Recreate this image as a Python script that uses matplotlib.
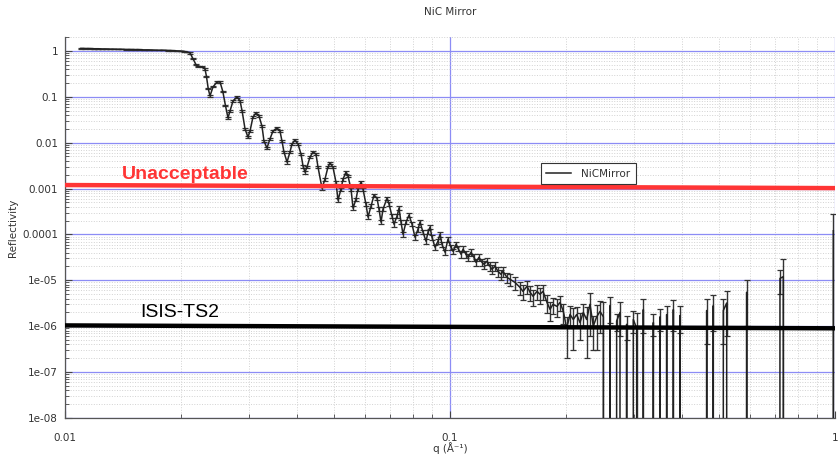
import numpy as np
import matplotlib
matplotlib.use('Agg')
from matplotlib import pyplot as plt
from matplotlib.ticker import LogLocator, NullFormatter

# ---- data (q in 1/A, reflectivity) ----
q_low = [0.0110, 0.0113, 0.0116, 0.0119, 0.0122, 0.0125,
         0.0128, 0.0131, 0.0134, 0.0137, 0.0140, 0.0144,
         0.0148, 0.0152, 0.0156, 0.0160, 0.0165, 0.0170,
         0.0175, 0.0180, 0.0185, 0.0190, 0.0195, 0.0200,
         0.0204, 0.0208,
         0.02112, 0.02150, 0.02189, 0.02215, 0.02269, 0.02310,
         0.02330, 0.02355, 0.02380, 0.02424, 0.02482, 0.02527,
         0.02570, 0.02610, 0.02651, 0.02683, 0.02732, 0.02798,
         0.02849, 0.02884, 0.02935, 0.02987, 0.03024, 0.03078,
         0.03134, 0.03190, 0.03248, 0.03287, 0.03347, 0.03407,
         0.03469, 0.03553, 0.03617, 0.03661, 0.03705, 0.03773,
         0.03840, 0.03886, 0.03957, 0.04029, 0.04102, 0.04152,
         0.04201, 0.04252, 0.04329, 0.04408, 0.04486, 0.04541,
         0.04651, 0.04734, 0.04820, 0.04879, 0.04966, 0.05056,
         0.05118, 0.05210, 0.05273, 0.05370, 0.05433, 0.05532,
         0.05600, 0.05700, 0.05768, 0.05875, 0.05943, 0.06050,
         0.06124, 0.06234, 0.06349, 0.06462, 0.06540, 0.06620,
         0.06699, 0.06862, 0.06945, 0.07070, 0.07153, 0.07284,
         0.07371, 0.07460, 0.07550, 0.07686, 0.07826, 0.07967,
         0.08111, 0.08259, 0.08358, 0.08509, 0.08664, 0.08768,
         0.08874, 0.08979, 0.09142, 0.09308, 0.09419, 0.09533,
         0.09705, 0.09880, 0.1006, 0.1018, 0.1037, 0.1049,
         0.1068, 0.1081, 0.1100, 0.1114, 0.1134, 0.1154,
         0.1168, 0.1189, 0.1211, 0.1225, 0.1248, 0.1270,
         0.1285, 0.1309, 0.1332, 0.1357, 0.1373, 0.1406,
         0.1432, 0.1475, 0.1520, 0.1547, 0.1585, 0.1614,
         0.1643, 0.1683, 0.1713, 0.1744, 0.1786, 0.1819,
         0.1851, 0.1896]

r_low = [1.13, 1.12, 1.12, 1.11, 1.11, 1.10,
         1.10, 1.09, 1.09, 1.08, 1.08, 1.07,
         1.07, 1.06, 1.06, 1.05, 1.05, 1.04,
         1.03, 1.03, 1.02, 1.01, 1.00, 0.99,
         0.97, 0.94,
         0.90, 0.67, 0.50, 0.45, 0.45, 0.40,
         0.28, 0.15, 0.104, 0.164, 0.21, 0.21,
         0.13, 0.065, 0.0344, 0.049, 0.081, 0.099,
         0.081, 0.049, 0.0198, 0.0132, 0.0179, 0.0362,
         0.0443, 0.0381, 0.0230, 0.0108, 0.00762, 0.0120,
         0.0179, 0.0208, 0.0179, 0.0108, 0.00623, 0.00377,
         0.00623, 0.00932, 0.0114, 0.00932, 0.00564, 0.00308,
         0.00228, 0.00293, 0.00485, 0.00623, 0.00564, 0.00293,
         0.00102, 0.00160, 0.00293, 0.00359, 0.00293, 0.00138,
         0.000558, 0.00097, 0.00160, 0.00228, 0.00187, 0.00097,
         0.000373, 0.000587, 0.00097, 0.00138, 0.00097, 0.000456,
         0.000238, 0.000413, 0.000718, 0.000617, 0.000355, 0.000185,
         0.000355, 0.000617, 0.000456, 0.000250, 0.000167, 0.000250,
         0.000373, 0.000185, 0.000101, 0.000185, 0.000263, 0.000167,
         8.69e-5, 0.000130, 0.000185, 0.000112, 7.11e-5, 0.000112,
         0.000144, 8.69e-5, 5.26e-5, 7.11e-5, 0.000101, 6.11e-5,
         4.09e-5, 7.86e-5, 5.26e-5, 4.30e-5, 6.11e-5, 5.0e-5,
         3.70e-5, 4.75e-5, 3.70e-5, 3.18e-5, 4.09e-5, 3.18e-5,
         2.47e-5, 3.18e-5, 2.47e-5, 2.24e-5, 2.60e-5, 2.02e-5,
         1.74e-5, 2.02e-5, 1.57e-5, 1.35e-5, 1.57e-5, 1.16e-5,
         1.05e-5, 9.0e-6, 7.0e-6, 5.75e-6, 7.4e-6, 5.5e-6,
         4.5e-6, 5.75e-6, 4.95e-6, 5.75e-6, 3.3e-6, 2.33e-6,
         3.0e-6, 2.7e-6]

# relative error of the low-q points
rel_low = [0.01, 0.01, 0.01, 0.01, 0.01, 0.01,
           0.01, 0.01, 0.01, 0.01, 0.01, 0.01,
           0.01, 0.01, 0.01, 0.01, 0.01, 0.01,
           0.01, 0.01, 0.01, 0.01, 0.01, 0.01,
           0.01, 0.01,
           0.03, 0.03, 0.03, 0.03, 0.03, 0.03,
           0.03, 0.03, 0.03, 0.03, 0.03, 0.03,
           0.04, 0.04, 0.05, 0.04, 0.04, 0.04,
           0.05, 0.05, 0.06, 0.06, 0.05, 0.05,
           0.05, 0.05, 0.05, 0.06, 0.06, 0.05,
           0.05, 0.05, 0.05, 0.06, 0.06, 0.07,
           0.06, 0.05, 0.05, 0.05, 0.06, 0.07,
           0.07, 0.06, 0.06, 0.05, 0.06, 0.06,
           0.08, 0.07, 0.06, 0.06, 0.06, 0.07,
           0.09, 0.08, 0.07, 0.07, 0.07, 0.08,
           0.09, 0.08, 0.08, 0.07, 0.08, 0.09,
           0.10, 0.09, 0.08, 0.08, 0.09, 0.10,
           0.09, 0.08, 0.09, 0.10, 0.11, 0.10,
           0.09, 0.10, 0.12, 0.10, 0.09, 0.10,
           0.12, 0.11, 0.10, 0.11, 0.12, 0.11,
           0.11, 0.12, 0.13, 0.12, 0.11, 0.13,
           0.14, 0.12, 0.13, 0.14, 0.13, 0.14,
           0.16, 0.15, 0.16, 0.17, 0.16, 0.17,
           0.18, 0.17, 0.19, 0.20, 0.19, 0.21,
           0.22, 0.21, 0.23, 0.24, 0.23, 0.26,
           0.28, 0.30, 0.32, 0.35, 0.33, 0.36,
           0.38, 0.35, 0.37, 0.36, 0.42, 0.45,
           0.40, 0.42]

# noisy tail: zeros are the non-positive points that fall off the log axis
q_tail = [0.1931, 0.1970, 0.2009, 0.2050, 0.2091, 0.2133,
          0.2176, 0.2219, 0.2264, 0.2310, 0.2356, 0.2404,
          0.2453, 0.2502, 0.2552, 0.2604, 0.2656, 0.2709,
          0.2764, 0.2819, 0.2876, 0.2935, 0.2993, 0.3054,
          0.3115, 0.3178, 0.3242, 0.3307, 0.3374, 0.3442,
          0.3512, 0.3582, 0.3654, 0.3728, 0.3803, 0.3880,
          0.3957, 0.4037, 0.4201, 0.4460, 0.4642, 0.4734,
          0.4829, 0.4928, 0.5128, 0.5232, 0.5336, 0.5665,
          0.5896, 0.6014, 0.6386, 0.7196, 0.7339, 0.7487,
          0.8111, 0.9142, 0.9901]

r_tail = [3.3e-6, 2.1e-6, 0.9e-6, 1.8e-6, 1.4e-6, 1.8e-6,
          1.2e-6, 2.0e-6, 1.4e-6, 3.0e-6, 1.0e-6, 1.6e-6,
          2.1e-6, 1.6e-6, 0, 2.8e-6, 0, 1.3e-6,
          2.0e-6, 0, 1.1e-6, 0, 1.4e-6, 0.9e-6,
          0, 2.3e-6, 0, 0, 1.2e-6, 0,
          1.6e-6, 0, 1.8e-6, 0, 2.3e-6, 0,
          1.7e-6, 0, 0, 0, 2.2e-6, 0,
          2.8e-6, 0, 2.2e-6, 3.2e-6, 0, 0,
          5.5e-6, 0, 0, 1.1e-5, 1.2e-5, 0,
          0, 0, 1.2e-4]

err_tail = [1.2e-6, 1.0e-6, 0.7e-6, 0.9e-6, 1.1e-6, 0.8e-6,
            0.7e-6, 1.0e-6, 1.2e-6, 2.4e-6, 0.7e-6, 1.3e-6,
            1.4e-6, 1.7e-6, 0, 1.6e-6, 0, 0.5e-6,
            1.4e-6, 0, 0.6e-6, 0, 0.7e-6, 1.0e-6,
            0, 1.6e-6, 0, 0, 0.6e-6, 0,
            0.8e-6, 0, 0.9e-6, 0, 1.5e-6, 0,
            1.0e-6, 0, 0, 0, 1.8e-6, 0,
            2.0e-6, 0, 1.8e-6, 2.6e-6, 0, 0,
            4.5e-6, 0, 0, 6e-6, 1.7e-5, 0,
            0, 0, 1.6e-4]

# reference levels
unacc_q = [0.01, 1.0]
unacc_r = [1.19e-3, 1.02e-3]
ts2_q = [0.01, 1.0]
ts2_r = [1.04e-6, 0.90e-6]

yticks = [1e-8, 1e-7, 1e-6, 1e-5, 1e-4, 1e-3, 1e-2, 1e-1, 1]
ylabels = ['1e-08', '1e-07', '1e-06', '1e-05', '0.0001', '0.001', '0.01', '0.1', '1']
xticks = [0.01, 0.1, 1]
xlabels = ['0.01', '0.1', '1']

q = np.array(q_low + q_tail)
r = np.array(r_low + r_tail)
err = np.array(list(np.array(r_low) * np.array(rel_low)) + err_tail)

fig = plt.figure(figsize=(8.39, 4.55), dpi=100)
ax = fig.add_axes([65/839., 37/455., 770/839., 381/455.])

ax.set_xscale('log')
ax.set_yscale('log')

h = ax.errorbar(q, r, yerr=err, color='#222222', ecolor='#333333', lw=1.1,
                elinewidth=1.0, capsize=2.5, capthick=0.9, zorder=3)

ax.plot(unacc_q, unacc_r, color='#ff3535', lw=3.2, zorder=4)
ax.plot(ts2_q, ts2_r, color='black', lw=3.2, zorder=4)

ax.text(0.01406, 1.6e-3, 'Unacceptable', color='#ff3535', fontsize=14,
        fontweight='bold', family='Liberation Sans', va='baseline', zorder=5)
ax.text(0.01566, 1.56e-6, 'ISIS-TS2', color='black', fontsize=14,
        family='Liberation Sans', va='baseline', zorder=5)

ax.set_xlim(0.01, 1)
ax.set_ylim(1e-8, 2.0)

ax.set_yticks(yticks)
ax.set_yticklabels(ylabels)
ax.set_xticks(xticks)
ax.set_xticklabels(xlabels)
ax.yaxis.set_minor_locator(LogLocator(base=10, subs=np.arange(2, 10), numticks=20))
ax.xaxis.set_minor_locator(LogLocator(base=10, subs=np.arange(2, 10), numticks=20))
ax.yaxis.set_minor_formatter(NullFormatter())
ax.xaxis.set_minor_formatter(NullFormatter())

ax.grid(True, which='major', color='#8c8cf5', lw=0.9, ls='-', zorder=0)
ax.grid(True, which='minor', color='#d2d2d2', lw=0.7, ls=':', zorder=0)
ax.set_axisbelow(True)

ax.tick_params(which='both', direction='in', colors='#444444', labelcolor='#333333',
               labelsize=7.5, top=False, right=False)
ax.tick_params(which='major', length=5, width=0.8)
ax.tick_params(which='minor', length=3, width=0.6)
ax.tick_params(axis='x', pad=11)
ax.tick_params(axis='y', pad=5)

for s in ['top', 'right']:
    ax.spines[s].set_visible(False)
for s in ['left', 'bottom']:
    ax.spines[s].set_color('#555555')
    ax.spines[s].set_linewidth(0.9)

ax.set_xlabel('q (Å⁻¹)', fontsize=7.5, color='#333333', labelpad=-1)
ax.set_ylabel('Reflectivity', fontsize=7.5, color='#333333', labelpad=3)
fig.text(450/839., 1 - 12/455., 'NiC Mirror', fontsize=7.5, color='#333333',
         ha='center', va='center')

leg = ax.legend([h.lines[0]], ['NiCMirror'], loc='upper left',
                bbox_to_anchor=(0.618, 0.668), fontsize=7.5, fancybox=False,
                framealpha=1, edgecolor='#333333', borderpad=0.5,
                handlelength=2.4, handletextpad=1.0, borderaxespad=0)
leg.get_frame().set_linewidth(0.8)
leg.set_zorder(6)
for t in leg.get_texts():
    t.set_color('#333333')

fig.savefig('out.png', dpi=100)
